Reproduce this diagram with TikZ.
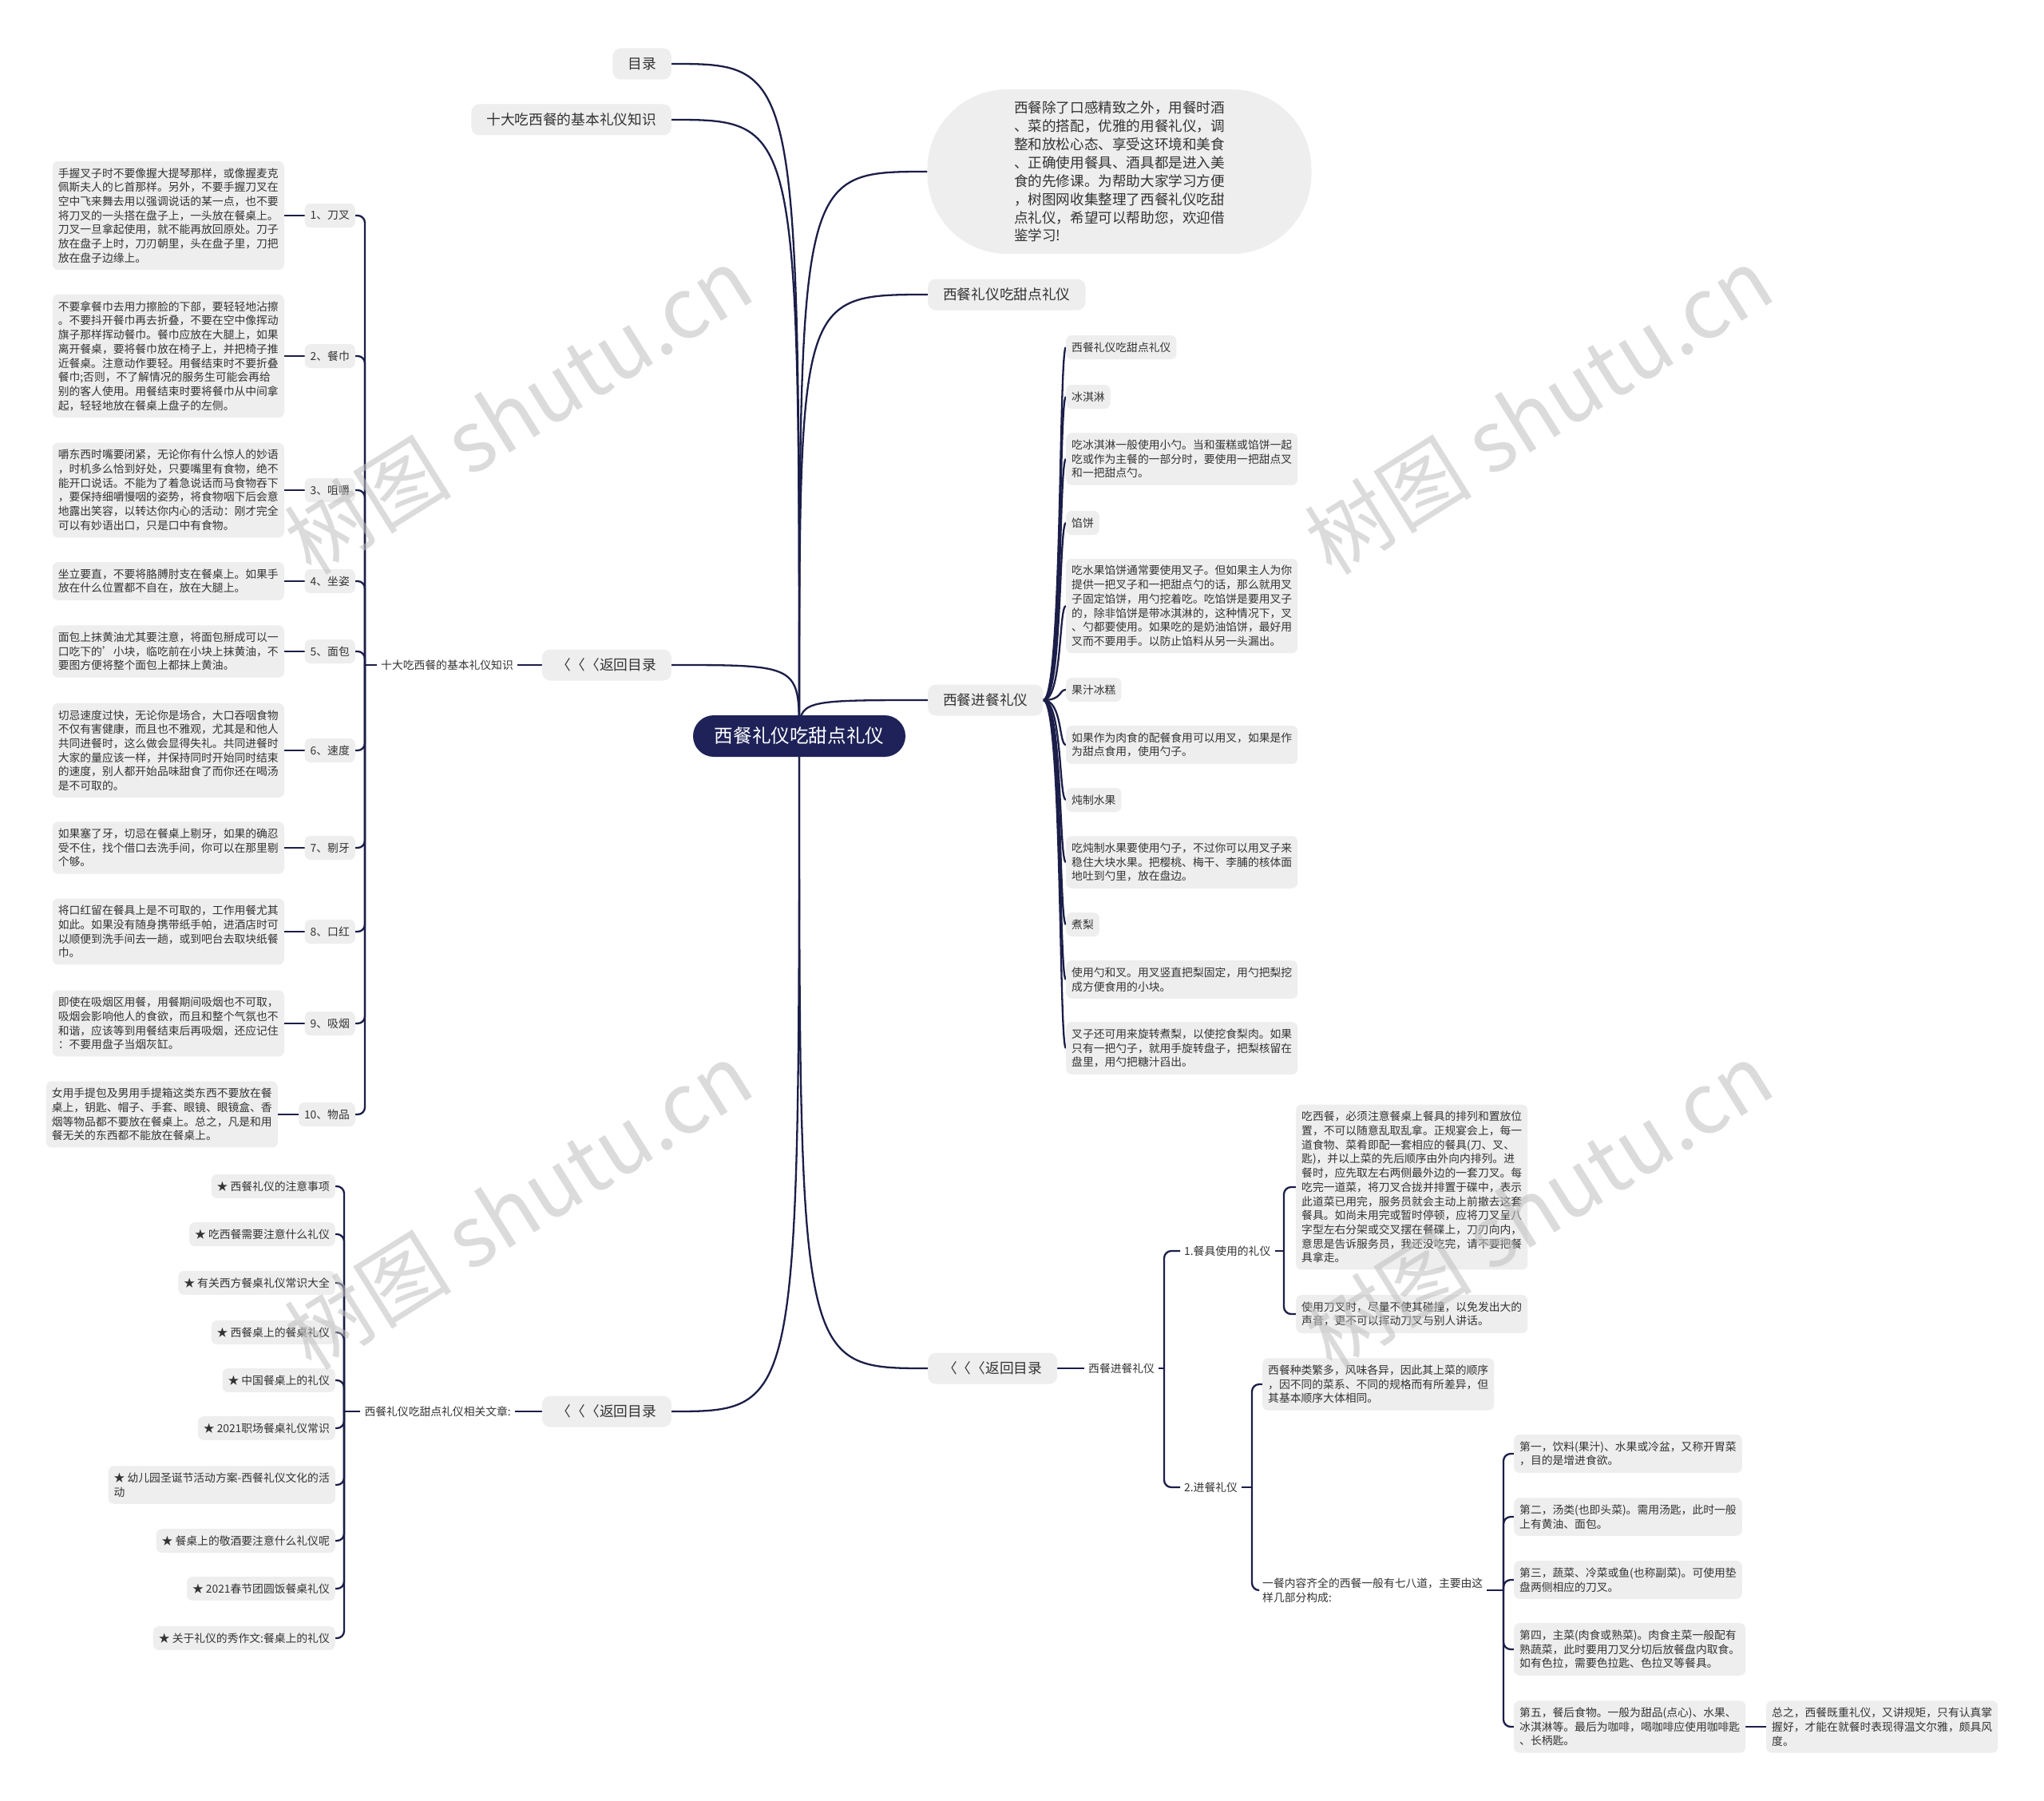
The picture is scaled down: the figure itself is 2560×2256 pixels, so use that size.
\documentclass[tikz,border=0pt]{standalone}
\usepackage{fontspec}
\setmainfont{Noto Sans CJK SC}
\usepackage{tikz}
\usetikzlibrary{positioning, backgrounds, calc}
\usepackage{xcolor}

\definecolor{navy}{RGB}{27,30,72}
\definecolor{hubfill}{RGB}{30,34,88}
\definecolor{boxgray}{RGB}{238,238,238}
\definecolor{inkgray}{RGB}{51,51,51}
\definecolor{markgray}{RGB}{190,190,190}

\newcommand{\leafsize}{\fontsize{13.8}{17.7}\selectfont}
\newcommand{\branchsize}{\fontsize{17.7}{22.9}\selectfont}
\newcommand{\hubsize}{\fontsize{23.6}{28}\selectfont}
\newcommand{\marksize}{\fontsize{105}{110}\selectfont}

\begin{document}
\begin{tikzpicture}[x=1pt, y=-1pt,
    link/.style={draw=navy, line width=2.3pt},
    bracket/.style={link, rounded corners=9pt},
    leaf/.style={fill=boxgray, rounded corners=7pt, inner xsep=7pt, inner ysep=8.5pt, align=left, text=inkgray, font=\leafsize},
    tag/.style={fill=boxgray, rounded corners=7pt, inner xsep=7pt, inner ysep=2pt, minimum height=30pt, text=inkgray, font=\leafsize},
    plain/.style={inner xsep=5pt, inner ysep=3pt, align=left, text=inkgray, font=\leafsize},
    branch/.style={fill=boxgray, rounded corners=10pt, inner xsep=19pt, inner ysep=2pt, minimum height=39pt, text=inkgray, font=\branchsize},
    hub/.style={fill=hubfill, rounded corners=26pt, minimum width=266pt, minimum height=52pt, text=white, font=\hubsize},
    wmark/.style={text=markgray, opacity=0.55, font=\marksize, rotate=32}]
    \useasboundingbox (0,0) rectangle (2560,2256);

    % Root
    \node[hub] (root) at (1001,922) {西餐礼仪吃甜点礼仪};

    % Left branches
    \node[branch, anchor=east] (mulu) at (841,80) {目录};
    \node[branch, anchor=east] (shida) at (841,150) {十大吃西餐的基本礼仪知识};
    \node[branch, anchor=east] (backa) at (841,833) {〈〈〈返回目录};
    \node[branch, anchor=east] (backb) at (841,1768) {〈〈〈返回目录};

    % Right branches
    \node[branch, rounded corners=100pt, minimum width=481pt, minimum height=206pt,
          align=left, font=\fontsize{17.6}{22.9}\selectfont] (intro) at (1402,215)
        {西餐除了口感精致之外，用餐时酒\\、菜的搭配，优雅的用餐礼仪，调\\整和放松心态、享受这环境和美食\\、正确使用餐具、酒具都是进入美\\食的先修课。为帮助大家学习方便\\，树图网收集整理了西餐礼仪吃甜\\点礼仪，希望可以帮助您，欢迎借\\鉴学习!};
    \node[branch, anchor=west] (tiandian) at (1162,369) {西餐礼仪吃甜点礼仪};
    \node[branch, anchor=west] (jincan) at (1162,877) {西餐进餐礼仪};
    \node[branch, anchor=west] (backc) at (1162,1714) {〈〈〈返回目录};

    % --- Ten basic rules ---
    \node[plain, anchor=east] (shidasub) at (648,833) {十大吃西餐的基本礼仪知识};
    \coordinate (shidafork) at (457,833);

    \node[tag, anchor=east] (k1) at (445,270) {1、刀叉};
    \node[tag, anchor=east] (k2) at (445,446) {2、餐巾};
    \node[tag, anchor=east] (k3) at (445,614) {3、咀嚼};
    \node[tag, anchor=east] (k4) at (445,728) {4、坐姿};
    \node[tag, anchor=east] (k5) at (445,816) {5、面包};
    \node[tag, anchor=east] (k6) at (445,940) {6、速度};
    \node[tag, anchor=east] (k7) at (445,1062) {7、剔牙};
    \node[tag, anchor=east] (k8) at (445,1167) {8、口红};
    \node[tag, anchor=east] (k9) at (445,1282) {9、吸烟};
    \node[tag, anchor=east] (k10) at (445,1396) {10、物品};

    \node[leaf, anchor=east] (t1) at (356,270)
        {手握叉子时不要像握大提琴那样，或像握麦克\\佩斯夫人的匕首那样。另外，不要手握刀叉在\\空中飞来舞去用以强调说话的某一点，也不要\\将刀叉的一头搭在盘子上，一头放在餐桌上。\\刀叉一旦拿起使用，就不能再放回原处。刀子\\放在盘子上时，刀刃朝里，头在盘子里，刀把\\放在盘子边缘上。};
    \node[leaf, anchor=east] (t2) at (356,446)
        {不要拿餐巾去用力擦脸的下部，要轻轻地沾擦\\。不要抖开餐巾再去折叠，不要在空中像挥动\\旗子那样挥动餐巾。餐巾应放在大腿上，如果\\离开餐桌，要将餐巾放在椅子上，并把椅子推\\近餐桌。注意动作要轻。用餐结束时不要折叠\\餐巾;否则，不了解情况的服务生可能会再给\\别的客人使用。用餐结束时要将餐巾从中间拿\\起，轻轻地放在餐桌上盘子的左侧。};
    \node[leaf, anchor=east] (t3) at (356,614)
        {嚼东西时嘴要闭紧，无论你有什么惊人的妙语\\，时机多么恰到好处，只要嘴里有食物，绝不\\能开口说话。不能为了着急说话而马食物吞下\\，要保持细嚼慢咽的姿势，将食物咽下后会意\\地露出笑容，以转达你内心的活动：刚才完全\\可以有妙语出口，只是口中有食物。};
    \node[leaf, anchor=east] (t4) at (356,728)
        {坐立要直，不要将胳膊肘支在餐桌上。如果手\\放在什么位置都不自在，放在大腿上。};
    \node[leaf, anchor=east] (t5) at (356,816)
        {面包上抹黄油尤其要注意，将面包掰成可以一\\口吃下的'小块，临吃前在小块上抹黄油，不\\要图方便将整个面包上都抹上黄油。};
    \node[leaf, anchor=east] (t6) at (356,940)
        {切忌速度过快，无论你是场合，大口吞咽食物\\不仅有害健康，而且也不雅观，尤其是和他人\\共同进餐时，这么做会显得失礼。共同进餐时\\大家的量应该一样，并保持同时开始同时结束\\的速度，别人都开始品味甜食了而你还在喝汤\\是不可取的。};
    \node[leaf, anchor=east] (t7) at (356,1062)
        {如果塞了牙，切忌在餐桌上剔牙，如果的确忍\\受不住，找个借口去洗手间，你可以在那里剔\\个够。};
    \node[leaf, anchor=east] (t8) at (356,1167)
        {将口红留在餐具上是不可取的，工作用餐尤其\\如此。如果没有随身携带纸手帕，进酒店时可\\以顺便到洗手间去一趟，或到吧台去取块纸餐\\巾。};
    \node[leaf, anchor=east] (t9) at (356,1282)
        {即使在吸烟区用餐，用餐期间吸烟也不可取，\\吸烟会影响他人的食欲，而且和整个气氛也不\\和谐，应该等到用餐结束后再吸烟，还应记住\\：不要用盘子当烟灰缸。};
    \node[leaf, anchor=east] (t10) at (348,1396)
        {女用手提包及男用手提箱这类东西不要放在餐\\桌上，钥匙、帽子、手套、眼镜、眼镜盒、香\\烟等物品都不要放在餐桌上。总之，凡是和用\\餐无关的东西都不能放在餐桌上。};

    % --- Desserts ---
    \node[tag, anchor=west] (d1) at (1335,435) {西餐礼仪吃甜点礼仪};
    \node[tag, anchor=west] (d2) at (1335,497) {冰淇淋};
    \node[leaf, anchor=west] (d3) at (1335,575)
        {吃冰淇淋一般使用小勺。当和蛋糕或馅饼一起\\吃或作为主餐的一部分时，要使用一把甜点叉\\和一把甜点勺。};
    \node[tag, anchor=west] (d4) at (1335,655) {馅饼};
    \node[leaf, anchor=west] (d5) at (1335,759)
        {吃水果馅饼通常要使用叉子。但如果主人为你\\提供一把叉子和一把甜点勺的话，那么就用叉\\子固定馅饼，用勺挖着吃。吃馅饼是要用叉子\\的，除非馅饼是带冰淇淋的，这种情况下，叉\\、勺都要使用。如果吃的是奶油馅饼，最好用\\叉而不要用手。以防止馅料从另一头漏出。};
    \node[tag, anchor=west] (d6) at (1335,864) {果汁冰糕};
    \node[leaf, anchor=west] (d7) at (1335,933)
        {如果作为肉食的配餐食用可以用叉，如果是作\\为甜点食用，使用勺子。};
    \node[tag, anchor=west] (d8) at (1335,1002) {炖制水果};
    \node[leaf, anchor=west] (d9) at (1335,1080)
        {吃炖制水果要使用勺子，不过你可以用叉子来\\稳住大块水果。把樱桃、梅干、李脯的核体面\\地吐到勺里，放在盘边。};
    \node[tag, anchor=west] (d10) at (1335,1158) {煮梨};
    \node[leaf, anchor=west] (d11) at (1335,1227)
        {使用勺和叉。用叉竖直把梨固定，用勺把梨挖\\成方便食用的小块。};
    \node[leaf, anchor=west] (d12) at (1335,1313)
        {叉子还可用来旋转煮梨，以使挖食梨肉。如果\\只有一把勺子，就用手旋转盘子，把梨核留在\\盘里，用勺把糖汁舀出。};

    % --- Dining etiquette ---
    \node[plain, anchor=west] (jincansub) at (1358,1714) {西餐进餐礼仪};
    \coordinate (jincanfork) at (1458,1714);
    \node[plain, anchor=west] (canju) at (1478,1567) {1.餐具使用的礼仪};
    \node[plain, anchor=west] (jincanli) at (1478,1863) {2.进餐礼仪};
    \coordinate (canjufork) at (1608,1567);
    \coordinate (jincanlifork) at (1568,1863);

    \node[leaf, anchor=west] (e1) at (1623,1487)
        {吃西餐，必须注意餐桌上餐具的排列和置放位\\置，不可以随意乱取乱拿。正规宴会上，每一\\道食物、菜肴即配一套相应的餐具(刀、叉、\\匙)，并以上菜的先后顺序由外向内排列。进\\餐时，应先取左右两侧最外边的一套刀叉。每\\吃完一道菜，将刀叉合拢并排置于碟中，表示\\此道菜已用完，服务员就会主动上前撤去这套\\餐具。如尚未用完或暂时停顿，应将刀叉呈八\\字型左右分架或交叉摆在餐碟上，刀刃向内，\\意思是告诉服务员，我还没吃完，请不要把餐\\具拿走。};
    \node[leaf, anchor=west] (e2) at (1623,1646)
        {使用刀叉时，尽量不使其碰撞，以免发出大的\\声音，更不可以挥动刀叉与别人讲话。};
    \node[leaf, anchor=west] (f1) at (1581,1734)
        {西餐种类繁多，风味各异，因此其上菜的顺序\\，因不同的菜系、不同的规格而有所差异，但\\其基本顺序大体相同。};
    \node[plain, anchor=west] (qiba) at (1576,1992)
        {一餐内容齐全的西餐一般有七八道，主要由这\\样几部分构成:};
    \coordinate (qibafork) at (1883,1992);

    \node[leaf, anchor=west] (g1) at (1896,1821)
        {第一，饮料(果汁)、水果或冷盆，又称开胃菜\\，目的是增进食欲。};
    \node[leaf, anchor=west] (g2) at (1896,1900)
        {第二，汤类(也即头菜)。需用汤匙，此时一般\\上有黄油、面包。};
    \node[leaf, anchor=west] (g3) at (1896,1979)
        {第三，蔬菜、冷菜或鱼(也称副菜)。可使用垫\\盘两侧相应的刀叉。};
    \node[leaf, anchor=west] (g4) at (1896,2066)
        {第四，主菜(肉食或熟菜)。肉食主菜一般配有\\熟蔬菜，此时要用刀叉分切后放餐盘内取食。\\如有色拉，需要色拉匙、色拉叉等餐具。};
    \node[leaf, anchor=west] (g5) at (1896,2163)
        {第五，餐后食物。一般为甜品(点心)、水果、\\冰淇淋等。最后为咖啡，喝咖啡应使用咖啡匙\\、长柄匙。};
    \node[leaf, anchor=west] (h1) at (2212,2163)
        {总之，西餐既重礼仪，又讲规矩，只有认真掌\\握好，才能在就餐时表现得温文尔雅，颇具风\\度。};

    % --- Related articles ---
    \node[plain, anchor=east] (xiangguan) at (645,1768) {西餐礼仪吃甜点礼仪相关文章:};
    \coordinate (xgfork) at (431,1768);
    \node[leaf, anchor=east] (r1) at (420,1486) {★ 西餐礼仪的注意事项};
    \node[leaf, anchor=east] (r2) at (420,1546) {★ 吃西餐需要注意什么礼仪};
    \node[leaf, anchor=east] (r3) at (420,1607) {★ 有关西方餐桌礼仪常识大全};
    \node[leaf, anchor=east] (r4) at (420,1669) {★ 西餐桌上的餐桌礼仪};
    \node[leaf, anchor=east] (r5) at (420,1729) {★ 中国餐桌上的礼仪};
    \node[leaf, anchor=east] (r6) at (420,1789) {★ 2021职场餐桌礼仪常识};
    \node[leaf, anchor=east] (r7) at (420,1860) {★ 幼儿园圣诞节活动方案-西餐礼仪文化的活\\动};
    \node[leaf, anchor=east] (r8) at (420,1930) {★ 餐桌上的敬酒要注意什么礼仪呢};
    \node[leaf, anchor=east] (r9) at (420,1990) {★ 2021春节团圆饭餐桌礼仪};
    \node[leaf, anchor=east] (r10) at (420,2052) {★ 关于礼仪的秀作文:餐桌上的礼仪};

    \begin{scope}[on background layer]
        \fill[white] (0,0) rectangle (2560,2256);

        % Root to branches
        \draw[link] (root.center) .. controls (root.center |- mulu.east) .. (mulu.east);
        \draw[link] (root.center) .. controls (root.center |- shida.east) .. (shida.east);
        \draw[link] (root.center) .. controls (root.center |- backa.east) .. (backa.east);
        \draw[link] (root.center) .. controls (root.center |- backb.east) .. (backb.east);
        \draw[link] (root.center) .. controls (root.center |- intro.west) .. (intro.west);
        \draw[link] (root.center) .. controls (root.center |- tiandian.west) .. (tiandian.west);
        \draw[link] (root.center) .. controls (root.center |- jincan.west) .. (jincan.west);
        \draw[link] (root.center) .. controls (root.center |- backc.west) .. (backc.west);

        % Ten basic rules
        \draw[link] (backa.west) -- (shidasub.east);
        \draw[link] (shidasub.west) -- (shidafork);
        \draw[bracket] (shidafork) |- (k1.east);
        \draw[bracket] (shidafork) |- (k2.east);
        \draw[bracket] (shidafork) |- (k3.east);
        \draw[bracket] (shidafork) |- (k4.east);
        \draw[bracket] (shidafork) |- (k5.east);
        \draw[bracket] (shidafork) |- (k6.east);
        \draw[bracket] (shidafork) |- (k7.east);
        \draw[bracket] (shidafork) |- (k8.east);
        \draw[bracket] (shidafork) |- (k9.east);
        \draw[bracket] (shidafork) |- (k10.east);
        \draw[link] (t1.east) -- (k1.west);
        \draw[link] (t2.east) -- (k2.west);
        \draw[link] (t3.east) -- (k3.west);
        \draw[link] (t4.east) -- (k4.west);
        \draw[link] (t5.east) -- (k5.west);
        \draw[link] (t6.east) -- (k6.west);
        \draw[link] (t7.east) -- (k7.west);
        \draw[link] (t8.east) -- (k8.west);
        \draw[link] (t9.east) -- (k9.west);
        \draw[link] (t10.east) -- (k10.west);

        % Desserts
        \draw[link] (jincan.east) .. controls ($(jincan.east)+(24,0)$) and ($(d1.west)+(-9,0)$) .. (d1.west);
        \draw[link] (jincan.east) .. controls ($(jincan.east)+(24,0)$) and ($(d2.west)+(-9,0)$) .. (d2.west);
        \draw[link] (jincan.east) .. controls ($(jincan.east)+(24,0)$) and ($(d3.west)+(-9,0)$) .. (d3.west);
        \draw[link] (jincan.east) .. controls ($(jincan.east)+(24,0)$) and ($(d4.west)+(-9,0)$) .. (d4.west);
        \draw[link] (jincan.east) .. controls ($(jincan.east)+(24,0)$) and ($(d5.west)+(-9,0)$) .. (d5.west);
        \draw[link] (jincan.east) .. controls ($(jincan.east)+(24,0)$) and ($(d6.west)+(-9,0)$) .. (d6.west);
        \draw[link] (jincan.east) .. controls ($(jincan.east)+(24,0)$) and ($(d7.west)+(-9,0)$) .. (d7.west);
        \draw[link] (jincan.east) .. controls ($(jincan.east)+(24,0)$) and ($(d8.west)+(-9,0)$) .. (d8.west);
        \draw[link] (jincan.east) .. controls ($(jincan.east)+(24,0)$) and ($(d9.west)+(-9,0)$) .. (d9.west);
        \draw[link] (jincan.east) .. controls ($(jincan.east)+(24,0)$) and ($(d10.west)+(-9,0)$) .. (d10.west);
        \draw[link] (jincan.east) .. controls ($(jincan.east)+(24,0)$) and ($(d11.west)+(-9,0)$) .. (d11.west);
        \draw[link] (jincan.east) .. controls ($(jincan.east)+(24,0)$) and ($(d12.west)+(-9,0)$) .. (d12.west);

        % Dining etiquette
        \draw[link] (backc.east) -- (jincansub.west);
        \draw[link] (jincansub.east) -- (jincanfork);
        \draw[bracket] (jincanfork) |- (canju.west);
        \draw[bracket] (jincanfork) |- (jincanli.west);
        \draw[link] (canju.east) -- (canjufork);
        \draw[bracket] (canjufork) |- (e1.west);
        \draw[bracket] (canjufork) |- (e2.west);
        \draw[link] (jincanli.east) -- (jincanlifork);
        \draw[bracket] (jincanlifork) |- (f1.west);
        \draw[bracket] (jincanlifork) |- (qiba.west);
        \draw[link] (qiba.east) -- (qibafork);
        \draw[bracket] (qibafork) |- (g1.west);
        \draw[bracket] (qibafork) |- (g2.west);
        \draw[bracket] (qibafork) |- (g3.west);
        \draw[bracket] (qibafork) |- (g4.west);
        \draw[bracket] (qibafork) |- (g5.west);
        \draw[link] (g5.east) -- (h1.west);

        % Related articles
        \draw[link] (backb.west) -- (xiangguan.east);
        \draw[link] (xiangguan.west) -- (xgfork);
        \draw[bracket] (xgfork) |- (r1.east);
        \draw[bracket] (xgfork) |- (r2.east);
        \draw[bracket] (xgfork) |- (r3.east);
        \draw[bracket] (xgfork) |- (r4.east);
        \draw[bracket] (xgfork) |- (r5.east);
        \draw[bracket] (xgfork) |- (r6.east);
        \draw[bracket] (xgfork) |- (r7.east);
        \draw[bracket] (xgfork) |- (r8.east);
        \draw[bracket] (xgfork) |- (r9.east);
        \draw[bracket] (xgfork) |- (r10.east);
    \end{scope}

    % Watermarks
    \node[wmark] (marka) at (649,514) {树图 shutu.cn};
    \node[wmark] (markb) at (1927,514) {树图 shutu.cn};
    \node[wmark] (markc) at (649,1510) {树图 shutu.cn};
    \node[wmark] (markd) at (1927,1510) {树图 shutu.cn};

\end{tikzpicture}
\end{document}
